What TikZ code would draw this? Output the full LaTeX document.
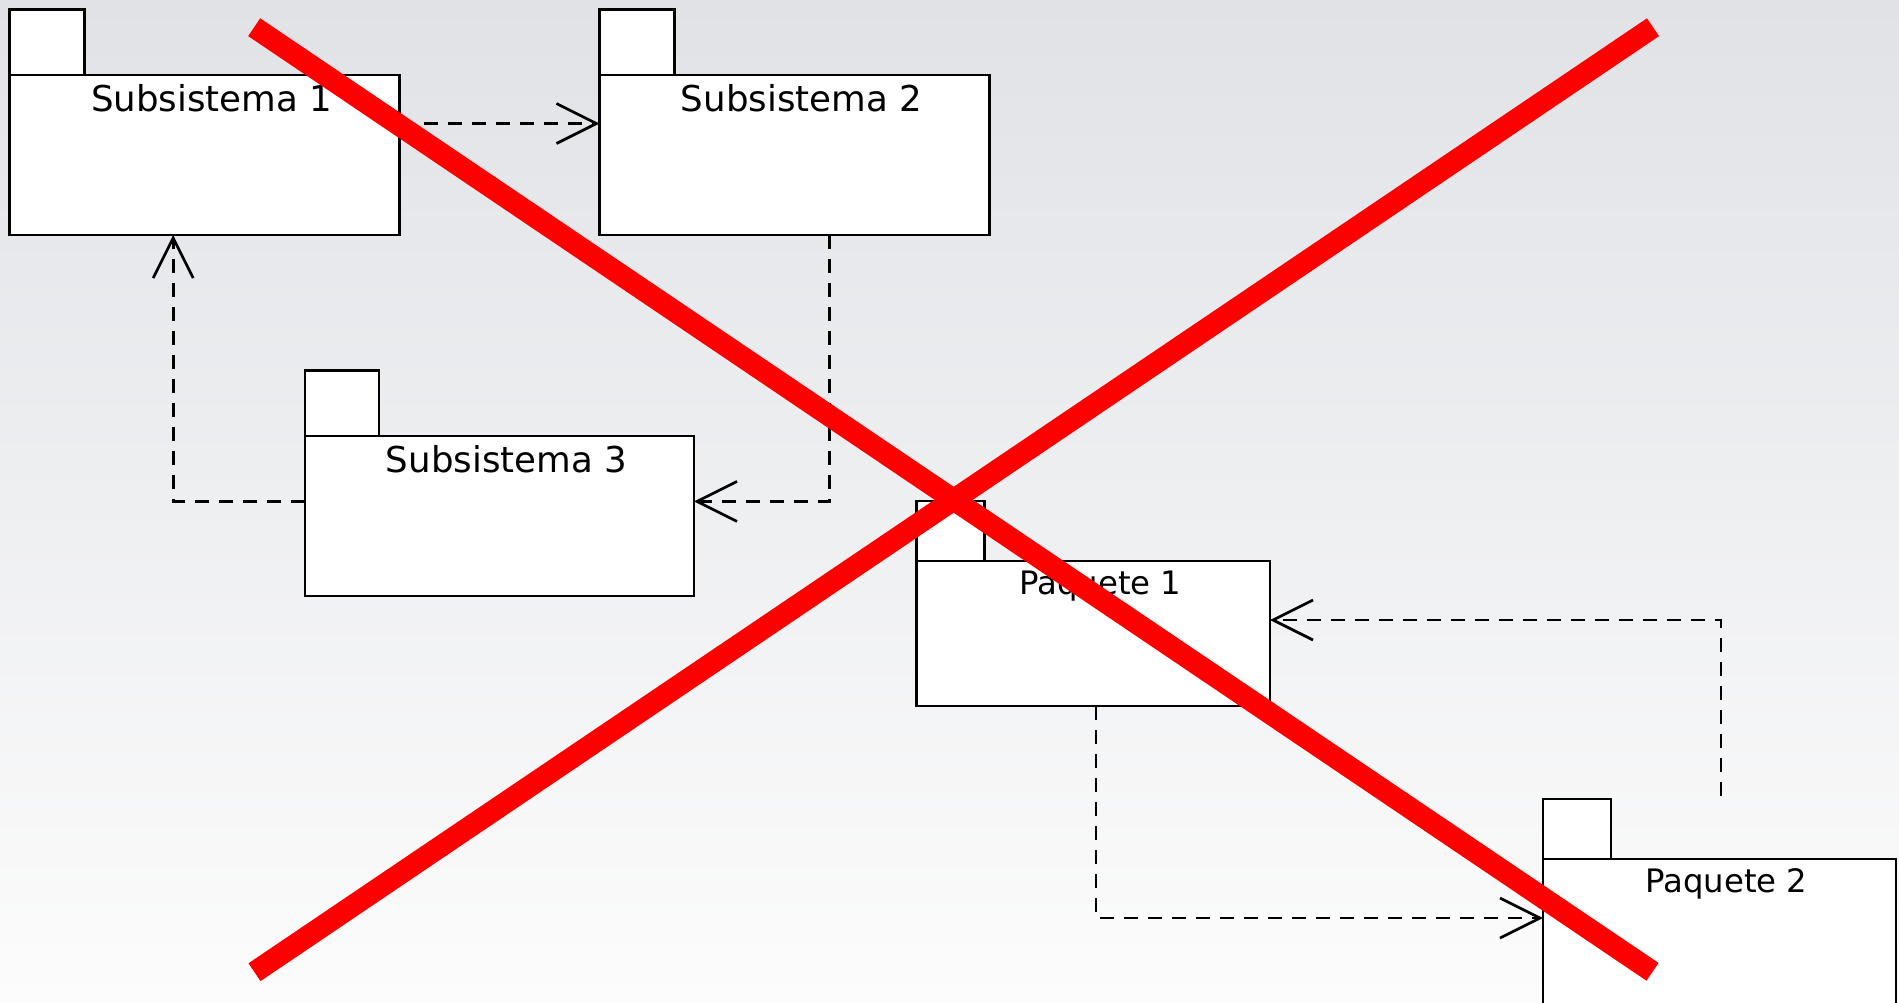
\documentclass[tikz,border=0pt]{standalone}
\usepackage{fontspec}
\setmainfont{DejaVu Sans}
\usetikzlibrary{arrows.meta}

\definecolor{bgtop}{RGB}{224,226,230}
\definecolor{bgmid}{RGB}{242,243,245}
\definecolor{bgbot}{RGB}{252,252,252}
\definecolor{crossred}{RGB}{255,0,0}

\tikzset{
  pkgbody/.style={draw=black, fill=white, line width=2.9pt, rectangle, inner sep=0pt, outer sep=0pt},
  pkgtab/.style={draw=black, fill=white, line width=2.9pt, rectangle, inner sep=0pt, outer sep=0pt},
  sublabel/.style={anchor=base, inner sep=0pt, xshift=7pt, font=\fontsize{35.6}{40}\selectfont},
  pqlabel/.style={anchor=base, inner sep=0pt, xshift=7pt, font=\fontsize{32.3}{38}\selectfont},
  dep/.style={draw=black, line width=2.6pt, dash pattern=on 14pt off 10pt,
    -{Straight Barb[length=40pt, width=40pt, line width=2.7pt]}},
  crossline/.style={draw=crossred, line width=21.5pt, line cap=butt}
}

\begin{document}
\begin{tikzpicture}[x=1pt, y=-1pt]
  % page and background gradient
  \useasboundingbox (0,0) rectangle (1899,1002);
  \shade[top color=bgtop, middle color=bgmid, bottom color=bgbot] (0,0) rectangle (1899,1002);

  % Subsistema 1
  \node[pkgtab, minimum width=75pt, minimum height=65.3pt] (s1tab) at (47.3,42.4) {};
  \node[pkgbody, minimum width=390pt, minimum height=160pt] (s1) at (204.7,155) {};
  \node[sublabel] (s1l) at (204.7,111.4) {Subsistema 1};

  % Subsistema 2
  \node[pkgtab, minimum width=75pt, minimum height=65.3pt] (s2tab) at (637,42.4) {};
  \node[pkgbody, minimum width=390pt, minimum height=160pt] (s2) at (794.5,155) {};
  \node[sublabel] (s2l) at (794.5,111.4) {Subsistema 2};

  % Subsistema 3
  \node[pkgtab, minimum width=74pt, minimum height=65.4pt] (s3tab) at (342,403.3) {};
  \node[pkgbody, minimum width=389pt, minimum height=160pt] (s3) at (499.5,516) {};
  \node[sublabel] (s3l) at (499.5,472.4) {Subsistema 3};

  % Paquete 1
  \node[pkgtab, minimum width=67.8pt, minimum height=60pt] (p1tab) at (950.7,531) {};
  \node[pkgbody, minimum width=353.2pt, minimum height=145pt] (p1) at (1093.4,633.5) {};
  \node[pqlabel] (p1l) at (1093.4,594.6) {Paquete 1};

  % Paquete 2
  \node[pkgtab, minimum width=68pt, minimum height=60pt] (p2tab) at (1577,829) {};
  \node[pkgbody, minimum width=353pt, minimum height=145pt] (p2) at (1719.5,931.5) {};
  \node[pqlabel] (p2l) at (1719.5,892.6) {Paquete 2};

  % dependencies
  \draw[dep] ([yshift=31.5pt]s1.east) -- ([yshift=31.5pt]s2.west);
  \draw[dep] ([xshift=35pt]s2.south) |- ([yshift=14.6pt]s3.east);
  \draw[dep] ([yshift=14.6pt]s3.west) -| ([xshift=-31.5pt]s1.south);
  \coordinate (p2out) at (1721,795.7);
  \draw[dep] (p2out) |- ([yshift=13.5pt]p1.east);
  \draw[dep] ([xshift=2.6pt]p1.south) |- ([yshift=13.5pt]p2.west);

  % red cross over the whole diagram
  \draw[crossline] (254.2,27.2) -- (1652.5,971.8);
  \draw[crossline] (254.5,972.2) -- (1653,27.2);
\end{tikzpicture}
\end{document}
